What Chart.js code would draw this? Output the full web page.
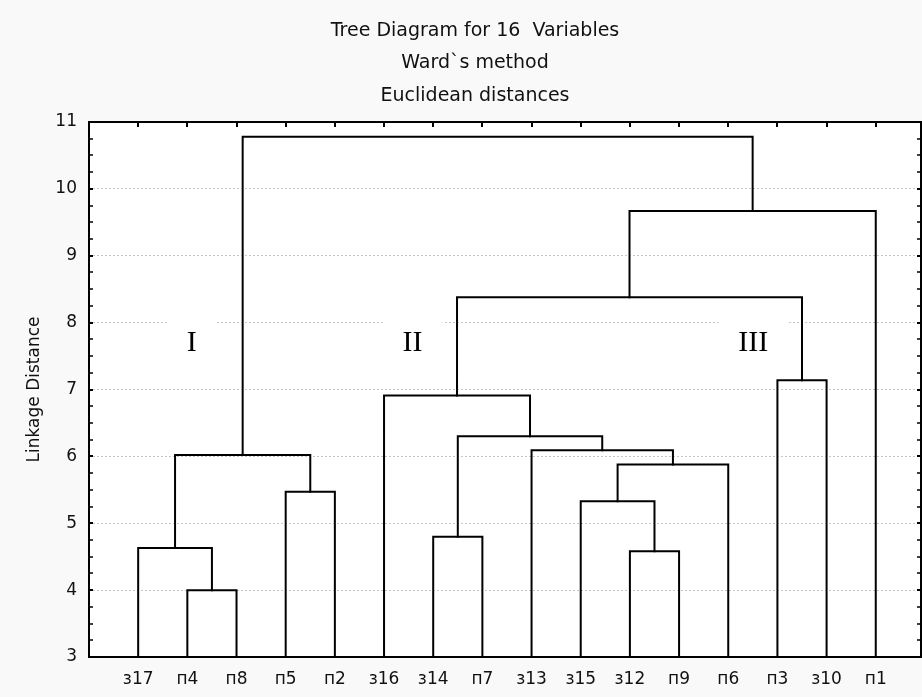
<!DOCTYPE html>
<html><head><meta charset="utf-8">
<script src="https://cdn.jsdelivr.net/npm/chart.js@4/dist/chart.umd.min.js"></script>
<style>html,body{margin:0;padding:0;background:#f9f9f9;overflow:hidden}#wrap{width:922px;height:697px}</style>
</head><body><div id="wrap"><canvas id="c" width="922" height="697"></canvas></div>
<script>
const titleLines = ['Tree Diagram for 16  Variables', 'Ward`s method', 'Euclidean distances'];
const leafLabels = ['з17','п4','п8','п5','п2','з16','з14','п7','з13','з15','з12','п9','п6','п3','з10','п1'];
// merge i creates node (16 + i); indices < 16 are leaves
const mergeLeft   = [1, 0, 3, 17, 10, 9, 21, 8, 6, 24, 5, 13, 26, 28, 19];
const mergeRight  = [2, 16, 4, 18, 11, 20, 12, 22, 7, 23, 25, 14, 27, 15, 29];
const mergeHeight = [4.00, 4.63, 5.47, 6.02, 4.58, 5.33, 5.88, 6.09, 4.80, 6.30, 6.91, 7.14, 8.38, 9.67, 10.78];
const yTicks = [3, 4, 5, 6, 7, 8, 9, 10, 11];
const clusterNames = ['I', 'II', 'III'];
const clusterX = [2.09, 6.58, 13.51];
const clusterY = [7.71, 7.71, 7.71];
const baseHeight = 3;
const yTitle = 'Linkage Distance';

const INK = '#000000';
const SANS = '"DejaVu Sans", sans-serif';

const nodeX = leafLabels.map((_, i) => i + 1);
const nodeH = leafLabels.map(() => baseHeight);
const datasets = [];
mergeLeft.forEach((l, i) => {
  const r = mergeRight[i], h = mergeHeight[i];
  nodeX.push((nodeX[l] + nodeX[r]) / 2);
  nodeH.push(h);
  datasets.push({
    data: [{x: nodeX[l], y: nodeH[l]}, {x: nodeX[l], y: h}, {x: nodeX[r], y: h}, {x: nodeX[r], y: nodeH[r]}],
    borderColor: INK, borderWidth: 2, pointRadius: 0, tension: 0, fill: false,
    borderJoinStyle: 'miter', borderCapStyle: 'square'
  });
});

const deco = {
  id: 'deco',
  beforeDraw(chart) {
    const {ctx, chartArea: a} = chart;
    ctx.save();
    ctx.fillStyle = '#f9f9f9';
    ctx.fillRect(0, 0, chart.width, chart.height);
    ctx.fillStyle = '#ffffff';
    ctx.fillRect(a.left, a.top, a.right - a.left, a.bottom - a.top);
    ctx.restore();
  },
  beforeDatasetsDraw(chart) {
    const {ctx, scales: {x, y}} = chart;
    ctx.save();
    ctx.font = '30px "Liberation Serif", serif';
    ctx.textAlign = 'center';
    ctx.textBaseline = 'middle';
    clusterNames.forEach((t, i) => {
      const px = x.getPixelForValue(clusterX[i]);
      const py = y.getPixelForValue(clusterY[i]);
      const w = ctx.measureText(t).width + 40;
      ctx.fillStyle = '#ffffff';
      ctx.fillRect(px - w / 2, py - 24, w, 48);
      ctx.fillStyle = '#000';
      ctx.fillText(t, px, py + 1);
    });
    ctx.restore();
  },
  afterDatasetsDraw(chart) {
    const {ctx, chartArea: a, scales: {x, y}} = chart;
    ctx.save();
    ctx.strokeStyle = INK;
    ctx.lineWidth = 2;
    ctx.strokeRect(a.left, a.top, a.right - a.left, a.bottom - a.top);
    for (let v = 3; v <= 11.001; v += 0.25) {
      const py = Math.round(y.getPixelForValue(v));
      const major = Math.abs(v - Math.round(v)) < 1e-6;
      ctx.lineWidth = major ? 2 : 1.5;
      ctx.beginPath();
      ctx.moveTo(a.left, py); ctx.lineTo(a.left + 4, py);
      ctx.moveTo(a.right - 4, py); ctx.lineTo(a.right, py);
      ctx.stroke();
    }
    ctx.lineWidth = 2;
    nodeX.slice(0, leafLabels.length).forEach(v => {
      const px = Math.round(x.getPixelForValue(v));
      ctx.beginPath();
      ctx.moveTo(px, a.top); ctx.lineTo(px, a.top + 5);
      ctx.stroke();
    });
    ctx.fillStyle = '#111';
    ctx.font = '19px ' + SANS;
    ctx.textAlign = 'center';
    ctx.textBaseline = 'middle';
    const tops = [31, 63.5, 96];
    titleLines.forEach((t, i) => ctx.fillText(t, 475, tops[i]));
    ctx.restore();
  }
};

new Chart(document.getElementById('c'), {
  type: 'line',
  data: {datasets},
  plugins: [deco],
  options: {
    responsive: false, animation: false, devicePixelRatio: 1,
    layout: {padding: {top: 122, right: 1, left: 0, bottom: 0}},
    plugins: {legend: {display: false}, tooltip: {enabled: false}, title: {display: false}},
    scales: {
      x: {
        type: 'linear', min: 0, max: 16.92,
        afterBuildTicks: s => { s.ticks = leafLabels.map((_, i) => ({value: i + 1})); },
        afterFit: s => { s.height = 40; },
        ticks: {callback: v => leafLabels[v - 1] ?? '', font: {family: SANS, size: 17}, color: '#111', padding: 4, maxRotation: 0, autoSkip: false},
        grid: {display: false}, border: {display: false}
      },
      y: {
        type: 'linear', min: 3, max: 11,
        afterBuildTicks: s => { s.ticks = yTicks.map(v => ({value: v})); },
        afterFit: s => { s.width = 89; },
        ticks: {font: {family: SANS, size: 17}, color: '#111', padding: 12},
        grid: {color: '#c6c6c6', lineWidth: 1, drawTicks: false},
        border: {display: false, dash: [2, 2]},
        title: {display: true, text: yTitle, font: {family: SANS, size: 17}, color: '#111', padding: {top: 24, bottom: 0}}
      }
    }
  }
});
</script></body></html>
